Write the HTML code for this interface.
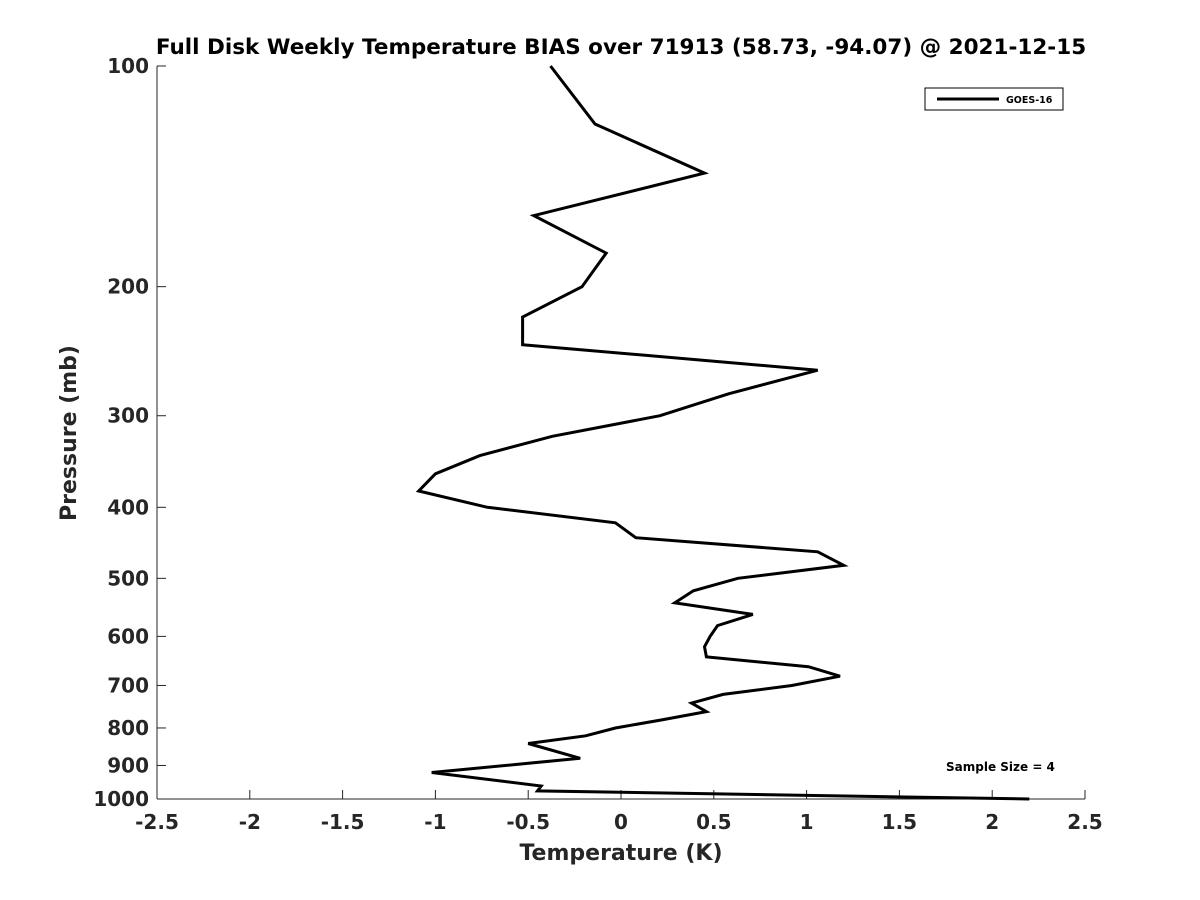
<!DOCTYPE html>
<html><head><meta charset="utf-8"><style>body{margin:0;background:#fff}svg{display:block;font-family:"DejaVu Sans","Liberation Sans",sans-serif}</style></head>
<body>
<svg id="chart" width="1200" height="900" xmlns="http://www.w3.org/2000/svg">
<text x="621" y="54" text-anchor="middle" font-size="21.5" font-weight="bold" fill="#000">Full Disk Weekly Temperature BIAS over 71913 (58.73, -94.07) @ 2021-12-15</text>
<g id="axes"></g>
<path id="series" fill="none" stroke="#000" stroke-width="3" stroke-linejoin="miter"/>
<g>
<rect x="925" y="88" width="138" height="22" fill="#fff" stroke="#000" stroke-width="1"/>
<line x1="937" y1="99" x2="999" y2="99" stroke="#000" stroke-width="3"/>
<text x="1006" y="103" font-size="9.5" font-weight="bold">GOES-16</text>
</g>
<text x="946" y="771" font-size="12" font-weight="bold">Sample Size = 4</text>
<text x="621" y="860" text-anchor="middle" font-size="22" font-weight="bold" fill="#262626">Temperature (K)</text>
<text transform="translate(76,433) rotate(-90)" text-anchor="middle" font-size="22" font-weight="bold" fill="#262626">Pressure (mb)</text>
</svg>
<script>
const pressures=[100,120,140,160,180,200,220,240,260,280,300,320,340,360,380,400,420,440,460,480,500,520,540,560,580,600,620,640,660,680,700,720,740,760,780,800,820,840,880,920,960,975,1000];
const biasValues=[-0.38,-0.14,0.45,-0.47,-0.08,-0.21,-0.53,-0.53,1.06,0.58,0.21,-0.37,-0.76,-1.0,-1.09,-0.72,-0.03,0.08,1.06,1.2,0.63,0.39,0.29,0.71,0.52,0.48,0.45,0.46,1.01,1.18,0.92,0.55,0.38,0.46,0.22,-0.03,-0.19,-0.5,-0.22,-1.02,-0.43,-0.45,2.2];
const xTicks=[-2.5,-2,-1.5,-1,-0.5,0,0.5,1,1.5,2,2.5];
const yTicks=[100,200,300,400,500,600,700,800,900,1000];
const X0=157,X1=1085,Y0=66,Y1=799;
const xs=v=>X0+(v+2.5)/5*(X1-X0);
const ys=p=>Y0+Math.log10(p/100)*(Y1-Y0);
const NS="http://www.w3.org/2000/svg";
const ax=document.getElementById('axes');
function mk(t,a){const e=document.createElementNS(NS,t);for(const k in a)e.setAttribute(k,a[k]);ax.appendChild(e);return e;}
const xl=mk('line',{x1:X0,y1:Y1,x2:X1,y2:Y1,stroke:'#262626','stroke-width':1});


const yl=mk('line',{x1:X0,y1:Y0,x2:X0,y2:Y1,stroke:'#262626','stroke-width':1});


xTicks.forEach(v=>{const x=xs(v);mk('line',{x1:x,y1:Y1,x2:x,y2:Y1-9,stroke:'#262626'});
const t=mk('text',{x:x,y:Y1+30,'text-anchor':'middle','font-size':20,'font-weight':'bold',fill:'#262626'});t.textContent=v;

});
yTicks.forEach(p=>{const y=ys(p);mk('line',{x1:X0,y1:y,x2:X0+9,y2:y,stroke:'#262626'});
const t=mk('text',{x:X0-8,y:y+7,'text-anchor':'end','font-size':20,'font-weight':'bold',fill:'#262626'});t.textContent=p;

});
document.getElementById('series').setAttribute('d',pressures.map((p,i)=>(i?'L':'M')+xs(biasValues[i]).toFixed(1)+','+ys(p).toFixed(1)).join(''));
</script>
</body></html>
